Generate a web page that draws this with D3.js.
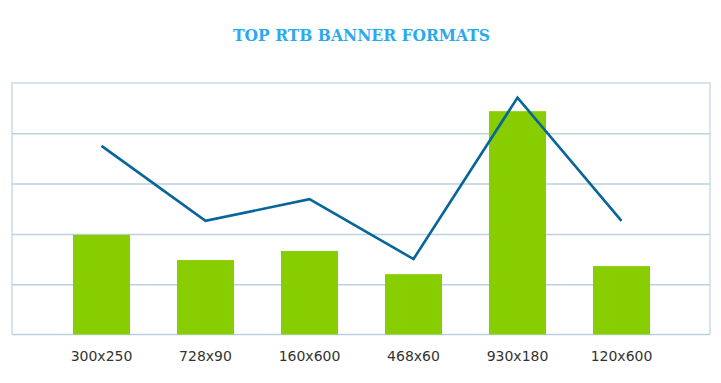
<!DOCTYPE html>
<html><head><meta charset="utf-8">
<script src="https://cdn.jsdelivr.net/npm/d3@7"></script>
<style>body{margin:0;background:#fff}svg{display:block}</style>
</head><body>
<script>
const categories = ["300x250","728x90","160x600","468x60","930x180","120x600"];
const barValues = [1.98, 1.48, 1.66, 1.20, 4.44, 1.36];
const lineValues = [3.75, 2.26, 2.69, 1.50, 4.71, 2.26];
const yTicks = [1, 2, 3, 4];
const title = "TOP RTB BANNER FORMATS";

const W = 721, H = 383;
const frame = {left: 12, right: 710, top: 83, bottom: 334.5};
const svg = d3.select("body").append("svg").attr("width", W).attr("height", H);

const x = d3.scaleBand().domain(categories).range([49.5, 673.5])
  .paddingInner(0.452).paddingOuter(0.226);
const y = d3.scaleLinear().domain([0, 5]).range([frame.bottom, frame.top]);

// frame
svg.append("path")
  .attr("d", `M${frame.left},${frame.bottom}V${frame.top}H${frame.right}V${frame.bottom}`)
  .attr("fill", "none").attr("stroke", "#c9dde7").attr("stroke-width", 1.5);

// grid
const grid = svg.append("g")
  .attr("transform", `translate(${frame.left},0)`)
  .call(d3.axisLeft(y).tickValues(yTicks).tickSize(-(frame.right - frame.left)).tickFormat(""));
grid.select(".domain").remove();
grid.selectAll(".tick line").attr("stroke", "#b9d2df").attr("stroke-width", 1.5);

// baseline
svg.append("line").attr("x1", frame.left).attr("x2", frame.right)
  .attr("y1", y(0)).attr("y2", y(0)).attr("stroke", "#b9d2df").attr("stroke-width", 1.5);

// bars
svg.append("g").selectAll("rect").data(categories).join("rect")
  .attr("x", d => x(d)).attr("width", x.bandwidth())
  .attr("y", (d, i) => y(barValues[i]))
  .attr("height", (d, i) => y(0) - y(barValues[i]))
  .attr("fill", "#87cd00");

// line
const line = d3.line().x((d, i) => x(categories[i]) + x.bandwidth() / 2).y(d => y(d));
svg.append("path").datum(lineValues).attr("d", line)
  .attr("fill", "none").attr("stroke", "#07659a").attr("stroke-width", 2.6)
  .attr("stroke-linejoin", "miter");

// x axis labels
const xa = svg.append("g").attr("transform", `translate(0,${y(0)})`)
  .call(d3.axisBottom(x).tickSize(0));
xa.select(".domain").remove();
xa.selectAll("text").attr("font-family", "DejaVu Sans").attr("font-size", 14)
  .attr("fill", "#333").attr("y", 26.5).attr("dy", 0);

// title
svg.append("text").attr("x", 361.5).attr("y", 40.7).attr("text-anchor", "middle")
  .attr("font-family", "DejaVu Serif").attr("font-weight", "bold").attr("font-size", 17)
  .attr("textLength", 257).attr("lengthAdjust", "spacingAndGlyphs")
  .attr("fill", "#2aa9ef").text(title);
</script>
</body></html>
